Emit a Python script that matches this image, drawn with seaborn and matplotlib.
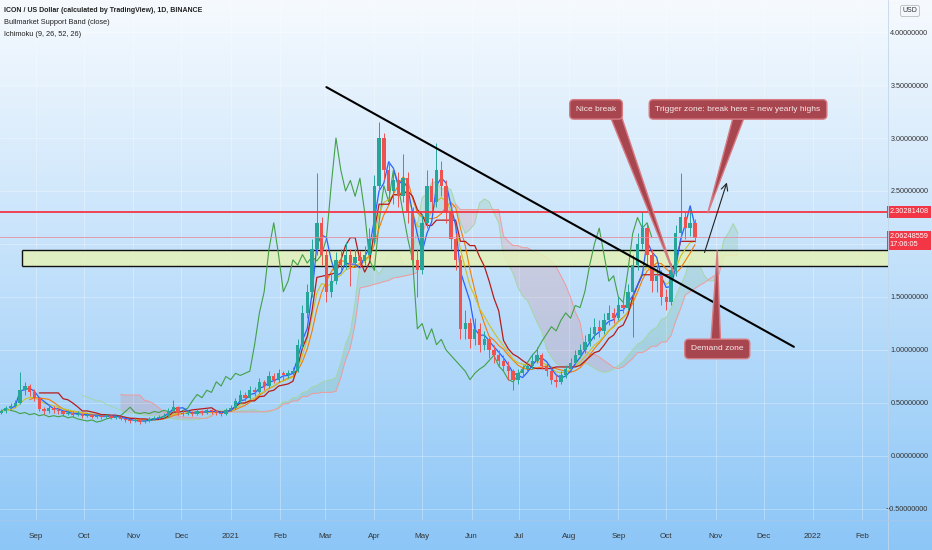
import numpy as np
import pandas as pd
import matplotlib
matplotlib.use("Agg")
import matplotlib.pyplot as plt
import matplotlib.dates as mdates
from matplotlib.patches import Polygon, Rectangle
import seaborn as sns

# ---------------- data (3-day candles) ----------------
start_date = "2020-08-10"
bar_days = 3
first_open = 0.41
closes = [0.42, 0.45, 0.47, 0.50, 0.62, 0.66, 0.60, 0.55, 0.44, 0.42,
          0.45, 0.43, 0.42, 0.40, 0.41, 0.39, 0.40, 0.38, 0.39, 0.37,
          0.38, 0.37, 0.38, 0.36, 0.37, 0.35, 0.34, 0.33, 0.34, 0.32,
          0.33, 0.35, 0.36, 0.37, 0.38, 0.42, 0.46, 0.41, 0.40, 0.41,
          0.40, 0.42, 0.41, 0.43, 0.42, 0.41, 0.40, 0.43, 0.45, 0.52,
          0.58, 0.55, 0.62, 0.60, 0.70, 0.66, 0.75, 0.72, 0.78, 0.76,
          0.78, 0.80, 1.05, 1.35, 1.55, 1.95, 2.20, 1.90, 1.55, 1.65,
          1.85, 1.80, 1.90, 1.82, 1.88, 1.84, 1.90, 2.05, 2.55, 3.00,
          2.70, 2.50, 2.60, 2.45, 2.62, 2.30, 1.85, 1.75, 2.20, 2.55,
          2.40, 2.70, 2.55, 2.30, 2.05, 1.85, 1.20, 1.25, 1.10, 1.20,
          1.05, 1.10, 1.00, 0.95, 0.90, 0.85, 0.80, 0.72, 0.78, 0.82,
          0.85, 0.90, 0.95, 0.85, 0.80, 0.72, 0.70, 0.76, 0.82, 0.88,
          0.95, 1.00, 1.08, 1.15, 1.22, 1.18, 1.28, 1.35, 1.30, 1.42,
          1.40, 1.55, 1.80, 2.00, 2.15, 1.90, 1.65, 1.70, 1.50, 1.45,
          1.75, 2.10, 2.25, 2.15, 2.20, 2.06]
highs = [0.44, 0.47, 0.50, 0.53, 0.79, 0.70, 0.68, 0.63, 0.56, 0.46,
         0.49, 0.47, 0.45, 0.43, 0.43, 0.42, 0.42, 0.41, 0.41, 0.40,
         0.40, 0.39, 0.40, 0.39, 0.39, 0.38, 0.36, 0.35, 0.36, 0.35,
         0.35, 0.37, 0.38, 0.39, 0.41, 0.45, 0.53, 0.47, 0.43, 0.43,
         0.42, 0.44, 0.43, 0.45, 0.44, 0.43, 0.42, 0.45, 0.48, 0.55,
         0.62, 0.60, 0.66, 0.65, 0.74, 0.72, 0.80, 0.78, 0.82, 0.80,
         0.81, 0.84, 1.10, 1.42, 1.62, 2.05, 2.67, 2.25, 1.95, 1.72,
         1.92, 1.95, 2.02, 1.95, 1.95, 1.93, 1.98, 2.15, 2.65, 3.15,
         3.05, 2.78, 2.72, 2.68, 2.85, 2.68, 2.35, 1.95, 2.28, 2.70,
         2.62, 2.95, 2.78, 2.60, 2.38, 2.10, 1.90, 1.38, 1.30, 1.30,
         1.25, 1.18, 1.12, 1.05, 1.00, 0.95, 0.90, 0.82, 0.82, 0.86,
         0.90, 0.96, 1.03, 0.97, 0.88, 0.82, 0.76, 0.80, 0.86, 0.92,
         1.00, 1.06, 1.14, 1.22, 1.30, 1.28, 1.35, 1.42, 1.40, 1.50,
         1.48, 1.62, 1.90, 2.10, 2.30, 2.20, 1.95, 1.80, 1.75, 1.58,
         1.82, 2.18, 2.67, 2.30, 2.33, 2.24]
lows = [0.40, 0.41, 0.44, 0.46, 0.49, 0.58, 0.57, 0.52, 0.42, 0.40,
        0.41, 0.41, 0.40, 0.38, 0.39, 0.37, 0.38, 0.36, 0.37, 0.36,
        0.36, 0.35, 0.36, 0.35, 0.35, 0.34, 0.32, 0.31, 0.32, 0.30,
        0.31, 0.32, 0.34, 0.35, 0.36, 0.37, 0.41, 0.39, 0.38, 0.39,
        0.38, 0.39, 0.39, 0.40, 0.40, 0.39, 0.38, 0.39, 0.42, 0.44,
        0.50, 0.52, 0.54, 0.57, 0.59, 0.62, 0.64, 0.69, 0.70, 0.72,
        0.74, 0.76, 0.79, 1.02, 1.30, 1.50, 1.90, 1.80, 1.45, 1.50,
        1.62, 1.75, 1.76, 1.60, 1.78, 1.78, 1.80, 1.85, 2.00, 2.50,
        2.60, 2.40, 2.38, 2.35, 2.40, 2.20, 1.75, 1.50, 1.72, 2.15,
        2.30, 2.35, 2.45, 2.20, 1.95, 1.75, 1.10, 1.10, 1.02, 1.05,
        0.98, 1.00, 0.92, 0.88, 0.84, 0.80, 0.72, 0.62, 0.68, 0.75,
        0.79, 0.82, 0.88, 0.82, 0.75, 0.68, 0.65, 0.68, 0.74, 0.80,
        0.86, 0.92, 0.97, 1.04, 1.10, 1.12, 1.15, 1.24, 1.25, 1.28,
        1.35, 1.38, 1.12, 1.75, 1.95, 1.80, 1.55, 1.55, 1.42, 1.38,
        1.42, 1.70, 2.05, 2.05, 2.08, 2.02]

# indicator periods in days (Ichimoku 9, 26, 52, 26; support band 20 / 21)
tenkan_days, kijun_days, spanb_days, shift_days = 9, 27, 51, 27
band_sma_days, band_ema_days = 21, 21

# horizontal levels / zone / drawings
resistance = 2.30281408
last_price = 2.06248559
last_time = "17:06:05"
zone_low, zone_high = 1.79, 1.94
zone_start = "2020-08-23"
trend_dates = ["2021-03-02", "2021-12-20"]
trend_vals = [3.48, 1.03]
arrow_dates = ["2021-10-25", "2021-11-08"]
arrow_vals = [1.92, 2.58]

callouts = [
    # text, box centre date, box centre value, pointer base dates, base value, tip date, tip value
    ("Nice break", "2021-08-18", 3.27, ("2021-08-27", "2021-09-03"), 3.20, "2021-10-06", 1.71),
    ("Trigger zone: break here = new yearly highs", "2021-11-15", 3.27,
     ("2021-11-12", "2021-11-19"), 3.20, "2021-10-27", 2.29),
    ("Demand zone", "2021-11-02", 1.01, ("2021-10-29", "2021-11-04"), 1.08, "2021-11-02", 1.94),
]

price_ticks = [-0.5, 0.0, 0.5, 1.0, 1.5, 2.5, 3.0, 3.5, 4.0]
month_starts = pd.date_range("2020-09-01", "2022-02-01", freq="MS")
month_labels = ["Sep", "Oct", "Nov", "Dec", "2021", "Feb", "Mar", "Apr", "May",
                "Jun", "Jul", "Aug", "Sep", "Oct", "Nov", "Dec", "2022", "Feb"]
header_lines = ["ICON / US Dollar (calculated by TradingView), 1D, BINANCE",
                "Bullmarket Support Band (close)",
                "Ichimoku (9, 26, 52, 26)"]

# ---------------- frame ----------------
df = pd.DataFrame({"close": closes, "high": highs, "low": lows})
df["open"] = df["close"].shift(1).fillna(first_open)
df["date"] = pd.date_range(start_date, periods=len(df), freq=f"{bar_days}D")
df["x"] = mdates.date2num(df["date"])

def mid(n):
    nb = max(1, round(n / bar_days))
    return (df["high"].rolling(nb).max() + df["low"].rolling(nb).min()) / 2

tenkan = mid(tenkan_days)
kijun = mid(kijun_days)
spanb = mid(spanb_days)
shift = round(shift_days / bar_days)
future_dates = pd.date_range(start_date, periods=len(df) + shift, freq=f"{bar_days}D")
fx = mdates.date2num(future_dates)
spanA_f = np.concatenate([np.full(shift, np.nan), ((tenkan + kijun) / 2).values])
spanB_f = np.concatenate([np.full(shift, np.nan), spanb.values])
chikou = df["close"].shift(-shift)
sma = df["close"].rolling(round(band_sma_days / bar_days)).mean()
ema = df["close"].ewm(span=round(band_ema_days / bar_days), adjust=False).mean()

# ---------------- figure ----------------
sns.set_theme(style="white")
plt.rcParams["font.family"] = ["Liberation Sans", "DejaVu Sans"]

W, H = 932, 550
fig = plt.figure(figsize=(W / 100, H / 100), dpi=100)
bg = fig.add_axes([0, 0, 1, 1], zorder=-5)
top = np.array([246, 250, 254]) / 255
bot = np.array([140, 198, 247]) / 255
t = np.linspace(0, 1, 256)[:, None]
grad = (top[None, :] * (1 - t) + bot[None, :] * t)[:, None, :]
bg.imshow(grad, aspect="auto", extent=[0, 1, 0, 1])
bg.axis("off")

ax = fig.add_axes([0, 30 / H, 888 / W, 520 / H])
ax.patch.set_alpha(0)
for s in ax.spines.values():
    s.set_visible(False)

xmin = mdates.date2num(pd.Timestamp("2020-08-09 10:00"))
xmax = mdates.date2num(pd.Timestamp("2022-02-17"))
ax.set_xlim(xmin, xmax)
ax.set_ylim(-0.604, 4.302)

# grid
for v in price_ticks + [2.0]:
    ax.axhline(v, color="white", lw=0.6, alpha=0.35, zorder=0)
for d in mdates.date2num(month_starts):
    ax.axvline(d, color="white", lw=0.6, alpha=0.35, zorder=0)

# cloud
ax.fill_between(fx, spanA_f, spanB_f, where=spanA_f >= spanB_f, interpolate=True,
                color="#43a047", alpha=0.13, lw=0, zorder=1)
ax.fill_between(fx, spanA_f, spanB_f, where=spanA_f < spanB_f, interpolate=True,
                color="#f44336", alpha=0.13, lw=0, zorder=1)
sns.lineplot(x=fx, y=spanA_f, ax=ax, color="#a5d6a7", lw=0.7, zorder=2)
sns.lineplot(x=fx, y=spanB_f, ax=ax, color="#ef9a9a", lw=0.7, zorder=2)

# demand zone
zx = mdates.date2num(pd.Timestamp(zone_start))
ax.add_patch(Rectangle((zx, zone_low), xmax - zx + 5, zone_high - zone_low,
                       facecolor="#e6f2b8", alpha=0.85, edgecolor="none", zorder=2))
ax.hlines([zone_low, zone_high], zx, xmax, color="#111111", lw=1.0, zorder=3)
ax.vlines(zx, zone_low, zone_high, color="#111111", lw=1.0, zorder=3)

# lines
sns.lineplot(x=df["x"], y=chikou, ax=ax, color="#43a047", lw=0.8, zorder=3)
sns.lineplot(x=df["x"], y=sma, ax=ax, color="#f57c00", lw=0.8, zorder=3)
sns.lineplot(x=df["x"], y=ema, ax=ax, color="#c9c12a", lw=0.8, zorder=3)
sns.lineplot(x=df["x"], y=kijun, ax=ax, color="#b71c1c", lw=0.9, zorder=3)
sns.lineplot(x=df["x"], y=tenkan, ax=ax, color="#2962ff", lw=0.9, zorder=3)

# candles
up = df["close"] >= df["open"]
cols = np.where(up, "#26a69a", "#ef5350")
ax.vlines(df["x"], df["low"], df["high"], colors=cols, lw=0.7, zorder=4)
body = (df["close"] - df["open"]).where(lambda s: s.abs() > 0.006, 0.006)
ax.bar(df["x"], body, bottom=df["open"], width=bar_days * 0.7, color=cols, lw=0, zorder=5)

# levels
ax.axhline(resistance, color="#f23645", lw=1.3, zorder=6)
ax.axhline(last_price, color="#e48aa0", lw=0.7, alpha=0.8, zorder=6)

# trend line + arrow
ax.plot(mdates.date2num(pd.to_datetime(trend_dates)), trend_vals, color="black", lw=1.5, zorder=7)
ad = mdates.date2num(pd.to_datetime(arrow_dates))
ax.annotate("", xy=(ad[1], arrow_vals[1]), xytext=(ad[0], arrow_vals[0]),
            arrowprops=dict(arrowstyle="->", lw=0.8, color="#222222", shrinkA=0, shrinkB=0),
            zorder=7)

# callouts
fill_c, edge_c = "#a8464f", "#d77b83"
for text, cd, cv, (b1, b2), bv, td, tv in callouts:
    bx = mdates.date2num(pd.to_datetime([b1, b2]))
    tx = mdates.date2num(pd.Timestamp(td))
    ax.add_patch(Polygon([(bx[0], bv), (tx, tv), (bx[1], bv)], closed=True,
                         facecolor=fill_c, edgecolor=edge_c, lw=1.0, zorder=8))
    ax.text(mdates.date2num(pd.Timestamp(cd)), cv, text, ha="center", va="center",
            fontsize=6, color="#f7e9ea", zorder=9,
            bbox=dict(boxstyle="round,pad=0.75,rounding_size=0.5", facecolor=fill_c,
                      edgecolor=edge_c, lw=1.0))

# axes ticks
ax.yaxis.tick_right()
ax.set_yticks(price_ticks)
ax.set_yticklabels([f"{v:.8f}".replace("-", "\u2212") for v in price_ticks])
ax.tick_params(axis="y", length=0, pad=29, labelsize=5.2, labelcolor="#333333")
for lbl in ax.get_yticklabels():
    lbl.set_horizontalalignment("right")
ax.set_xticks(mdates.date2num(month_starts))
ax.set_xticklabels(month_labels)
ax.tick_params(axis="x", length=0, pad=9, labelsize=5.8, labelcolor="#333333")
ax.set_xlabel("")
ax.set_ylabel("")

# price tags
ax.text(1.0015, resistance, f"{resistance:.8f}", transform=ax.get_yaxis_transform(),
        ha="left", va="center", fontsize=5.3, color="white", zorder=10,
        bbox=dict(boxstyle="square,pad=0.35", facecolor="#f23645", edgecolor="none"))
ax.text(1.0015, last_price + 0.04, f"{last_price:.8f}\n{last_time}",
        transform=ax.get_yaxis_transform(), ha="left", va="top", fontsize=5.3,
        color="white", linespacing=1.15, zorder=10,
        bbox=dict(boxstyle="square,pad=0.35", facecolor="#f23645", edgecolor="none"))

# separators
fig.add_artist(plt.Line2D([888 / W, 888 / W], [0, 1], color="#c2d6ea", lw=0.6))
fig.add_artist(plt.Line2D([0, 1], [30 / H, 30 / H], color="#a6c9ec", lw=0.6))
fig.text(910 / W, 1 - 11 / H, "USD", ha="center", va="center", fontsize=5, color="#333333",
         bbox=dict(boxstyle="round,pad=0.3", facecolor="none", edgecolor="#bbbbbb", lw=0.6))

# header
for i, line in enumerate(header_lines):
    fig.text(4 / W, 1 - (10 + 12 * i) / H, line, ha="left", va="center",
             fontsize=5.0 if i == 0 else 5.3, color="#222222",
             fontweight="bold" if i == 0 else "normal")

fig.savefig("out.png", dpi=100)
